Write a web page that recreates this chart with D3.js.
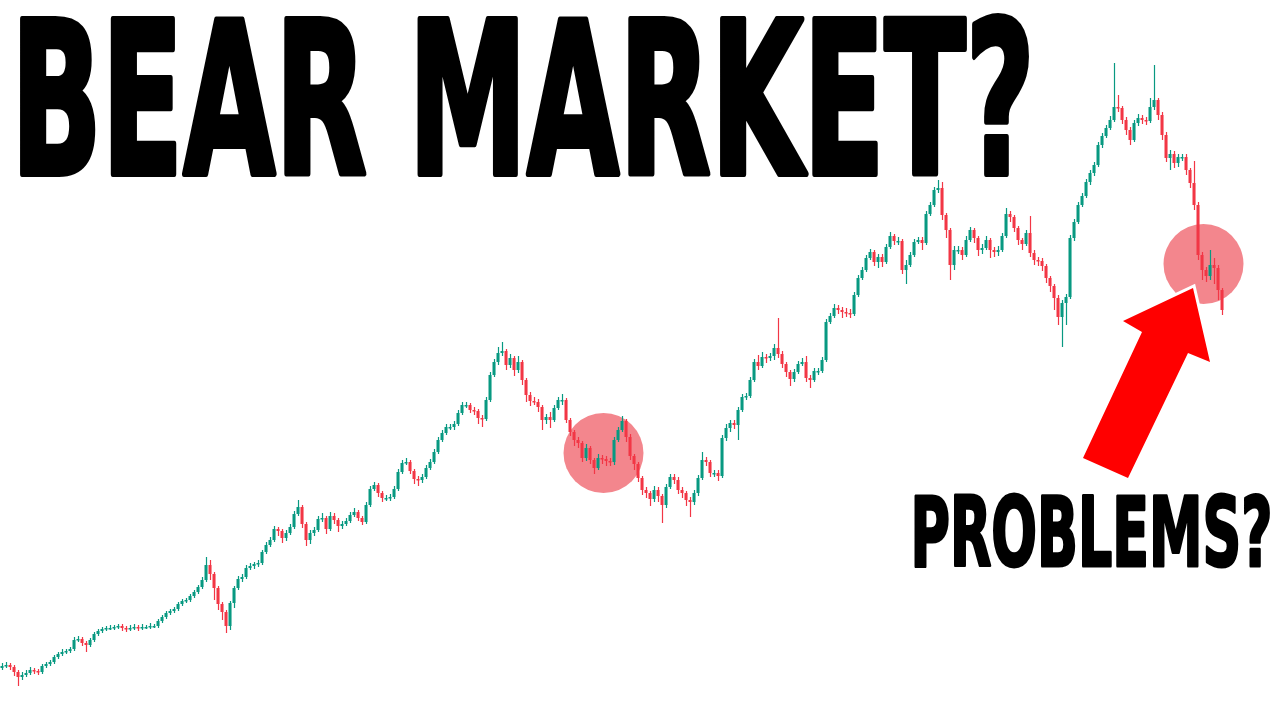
<!DOCTYPE html>
<html>
<head>
<meta charset="utf-8">
<script src="https://cdn.jsdelivr.net/npm/d3@7"></script>
<style>
  html, body { margin: 0; padding: 0; background: #ffffff; }
  svg { display: block; }
</style>
</head>
<body>
<svg id="chart" width="1280" height="720"></svg>
<script>
// ---- Data (price units) ----
const titleText = "BEAR MARKET?";
const calloutText = "PROBLEMS?";

const opens = [
52,54,55,53,48,43,45,47,50,49,
48,54,56,58,63,66,68,69,71,80,
81,77,75,80,86,89,91,92,92,93,
94,92,91,92,93,92,93,93,94,94,
99,103,107,109,111,116,119,120,124,128,
133,140,155,146,132,116,108,94,117,132,
141,143,152,154,156,157,168,175,180,191,
189,182,187,193,206,213,196,180,187,190,
201,202,191,204,200,194,196,199,205,208,
202,198,215,231,235,227,222,222,223,231,
248,257,258,249,241,240,243,252,258,268,
280,287,293,293,296,307,315,315,310,309,
302,301,320,345,358,367,369,355,362,350,
358,340,325,319,318,313,300,303,300,312,
320,320,300,288,280,277,262,272,260,252,
262,261,259,258,280,290,299,283,264,256,
242,230,227,221,230,224,215,233,243,240,
230,227,220,218,227,242,260,258,247,247,
244,282,292,297,295,310,323,324,340,358,
354,363,362,364,372,366,356,348,341,348,
356,358,342,340,349,349,360,398,404,412,
410,408,407,406,425,442,450,462,468,458,
463,458,473,484,479,479,450,455,465,478,
480,477,506,515,530,532,505,490,455,470,
470,465,480,490,482,470,472,480,470,468,
470,484,506,503,492,480,476,487,467,460,
459,454,442,434,422,403,417,423,482,498,
515,524,538,547,555,575,584,592,600,613,
612,600,590,580,597,602,600,599,613,620,
605,585,562,566,557,563,563,550,537,515,
465,450,444,455,452,430];

const closes = [
54,55,53,48,43,45,47,50,49,48,
54,56,58,63,66,68,69,71,80,81,
77,75,80,86,89,91,92,92,93,94,
92,91,92,93,92,93,93,94,94,99,
103,107,109,111,116,119,120,124,128,133,
140,155,146,132,116,108,94,117,132,141,
143,152,154,156,157,168,175,180,191,189,
182,187,193,206,213,196,180,187,190,201,
202,191,204,200,194,196,199,205,208,202,
198,215,231,235,227,222,222,223,231,248,
257,258,249,241,240,243,252,258,268,280,
287,293,293,296,307,315,315,310,309,302,
301,320,345,358,367,369,355,362,350,358,
340,325,319,318,313,300,303,300,312,320,
320,300,288,280,277,262,272,260,252,262,
261,259,258,280,290,299,283,264,256,242,
230,227,221,230,224,215,233,243,240,230,
227,220,218,227,242,260,258,247,247,244,
282,292,297,295,310,323,324,340,358,354,
363,362,364,372,366,356,348,341,348,356,
358,342,340,349,349,360,398,404,412,410,
408,407,406,425,442,450,462,468,458,463,
458,473,484,479,479,450,455,465,478,480,
477,506,515,530,532,505,490,455,470,470,
465,480,490,482,470,472,480,470,468,470,
484,506,503,492,480,476,487,467,460,459,
454,442,434,422,403,417,423,482,498,515,
524,538,547,555,575,584,592,600,613,612,
600,590,580,597,602,600,599,613,620,605,
585,562,566,557,563,563,550,537,515,465,
450,444,455,452,430,410];

const highs = [
57,58,57,55,50,48,50,53,52,51,
56,58,60,65,68,71,71,73,83,84,
83,79,82,88,91,93,94,95,95,96,
96,94,95,96,95,96,95,97,96,101,
105,109,111,113,118,121,122,126,130,135,
143,163,160,148,134,118,110,119,134,144,
146,155,157,158,160,170,178,183,194,193,
191,190,196,209,220,215,198,190,193,204,
207,204,208,207,202,199,202,208,212,210,
204,218,234,238,237,229,225,226,234,251,
260,262,260,251,244,246,255,261,271,283,
290,296,296,299,310,318,318,317,313,311,
305,323,348,361,373,378,371,366,364,364,
360,342,328,323,321,315,306,308,315,323,
326,322,302,290,283,279,276,274,262,266,
265,264,262,283,293,304,301,286,266,258,
244,233,229,234,233,226,236,246,246,243,
233,229,223,230,245,268,263,260,250,250,
285,296,300,300,313,326,327,343,361,365,
368,366,367,376,402,369,358,350,351,359,
362,364,345,352,352,363,401,407,416,415,
413,412,411,428,445,453,465,471,470,466,
466,476,488,486,483,481,460,468,481,483,
483,509,518,533,540,538,507,492,474,474,
473,484,493,492,484,476,484,482,473,474,
487,512,509,505,494,482,490,504,470,463,
462,456,444,436,425,420,426,485,501,518,
527,541,550,558,578,587,595,604,657,625,
614,603,593,600,606,605,603,622,655,622,
608,588,570,569,566,566,566,552,559,518,
468,453,470,462,455,432];

const lows = [
50,52,50,44,34,40,43,45,46,45,
46,52,54,56,61,64,66,67,69,78,
74,68,73,78,84,87,89,90,90,91,
89,88,89,90,89,90,91,91,92,92,
97,101,105,107,109,114,117,118,122,126,
131,138,140,120,110,100,87,90,112,130,
138,141,150,151,153,155,166,173,178,184,
177,179,185,191,204,192,174,176,184,188,
198,186,189,196,188,191,194,197,203,199,
195,196,213,229,223,218,219,219,221,229,
246,255,246,236,234,237,241,250,256,266,
278,285,290,290,294,305,312,307,305,296,
293,299,318,343,355,364,350,352,344,347,
335,318,314,315,308,290,296,292,298,310,
315,297,284,274,272,258,259,256,246,250,
256,254,254,255,278,288,278,260,250,238,
225,222,214,218,218,197,212,231,236,226,
222,214,203,215,224,240,254,243,243,239,
242,279,288,291,280,308,320,322,338,350,
352,357,359,360,362,352,343,334,338,346,
354,338,332,338,345,347,358,396,402,406,
402,403,402,404,423,440,448,460,454,452,
453,456,471,475,475,446,436,453,463,476,
470,475,504,513,527,500,482,440,450,466,
460,463,478,477,464,466,470,462,463,464,
468,482,498,488,475,470,474,463,455,454,
449,437,428,410,395,373,395,421,479,496,
513,522,535,544,553,572,582,590,598,608,
596,585,575,578,594,596,595,597,610,600,
580,558,550,552,553,559,545,532,510,460,
440,438,440,436,420,405];

// highlighted sessions (candle index at circle centre) and price level of the centre
const highlightSessions = [150, 300];
const highlightPrices = [267, 456];

const UP = "#089981", DOWN = "#f23645";

const svg = d3.select("#chart");

const sessions = d3.range(closes.length);
const x = d3.scaleBand().domain(sessions).range([0, 1224]).paddingInner(0.25).paddingOuter(0.125);
const y = d3.scaleLinear().domain([0, 720]).range([720, 0]);

const candles = sessions.map(i => ({i, o: opens[i], h: highs[i], l: lows[i], c: closes[i]}));

// highlight circles
svg.append("g").selectAll("circle")
  .data(highlightSessions.map((s, k) => ({s, p: highlightPrices[k]})))
  .join("circle")
  .attr("cx", d => x(d.s) + x.bandwidth() / 2 + 1.5)
  .attr("cy", d => y(d.p))
  .attr("r", 40)
  .attr("fill", "#f3868d");

// candles
const g = svg.append("g");
g.selectAll("line.wick").data(candles).join("line")
  .attr("class", "wick")
  .attr("x1", d => Math.round(x(d.i) + x.bandwidth() / 2) + 0.5)
  .attr("x2", d => Math.round(x(d.i) + x.bandwidth() / 2) + 0.5)
  .attr("y1", d => y(d.h))
  .attr("y2", d => y(d.l))
  .attr("stroke", d => d.c >= d.o ? UP : DOWN)
  .attr("stroke-width", 1.2);

g.selectAll("rect.body").data(candles).join("rect")
  .attr("class", "body")
  .attr("x", d => x(d.i))
  .attr("width", x.bandwidth())
  .attr("y", d => y(Math.max(d.o, d.c)))
  .attr("height", d => Math.max(1.5, Math.abs(y(d.o) - y(d.c))))
  .attr("fill", d => d.c >= d.o ? UP : DOWN);

// arrow
const arrowPts = [[1083,458],[1128,478],[1188,353],[1210,362],[1193,288],[1123,321],[1142,332]];
svg.append("polygon")
  .attr("points", arrowPts.map(p => p.join(",")).join(" "))
  .attr("fill", "#ff0000")
  .attr("stroke", "#ffffff")
  .attr("stroke-width", 6)
  .attr("stroke-linejoin", "miter")
  .attr("paint-order", "stroke");

// condensed heavy headline text, squeezed horizontally to the reference width
function headline(txt, left, baseline, size, targetW, strokeW) {
  const grp = svg.append("g");
  const t = grp.append("text")
    .attr("x", 0).attr("y", 0)
    .style("font-family", "'DejaVu Sans Condensed','DejaVu Sans',sans-serif")
    .style("font-weight", "bold")
    .style("font-stretch", "condensed")
    .style("font-size", size + "px")
    .attr("fill", "#000")
    .attr("stroke", "#000")
    .attr("stroke-width", strokeW)
    .attr("stroke-linejoin", "round")
    .text(txt);
  const bb = t.node().getBBox();
  const s = (targetW - strokeW) / bb.width;
  grp.attr("transform", `translate(${left + strokeW / 2 - bb.x * s},${baseline}) scale(${s},1)`);
}

headline(titleText, 8, 174, 213, 1030, 6);
headline(calloutText, 909, 566, 97, 365, 3);
</script>
</body>
</html>
